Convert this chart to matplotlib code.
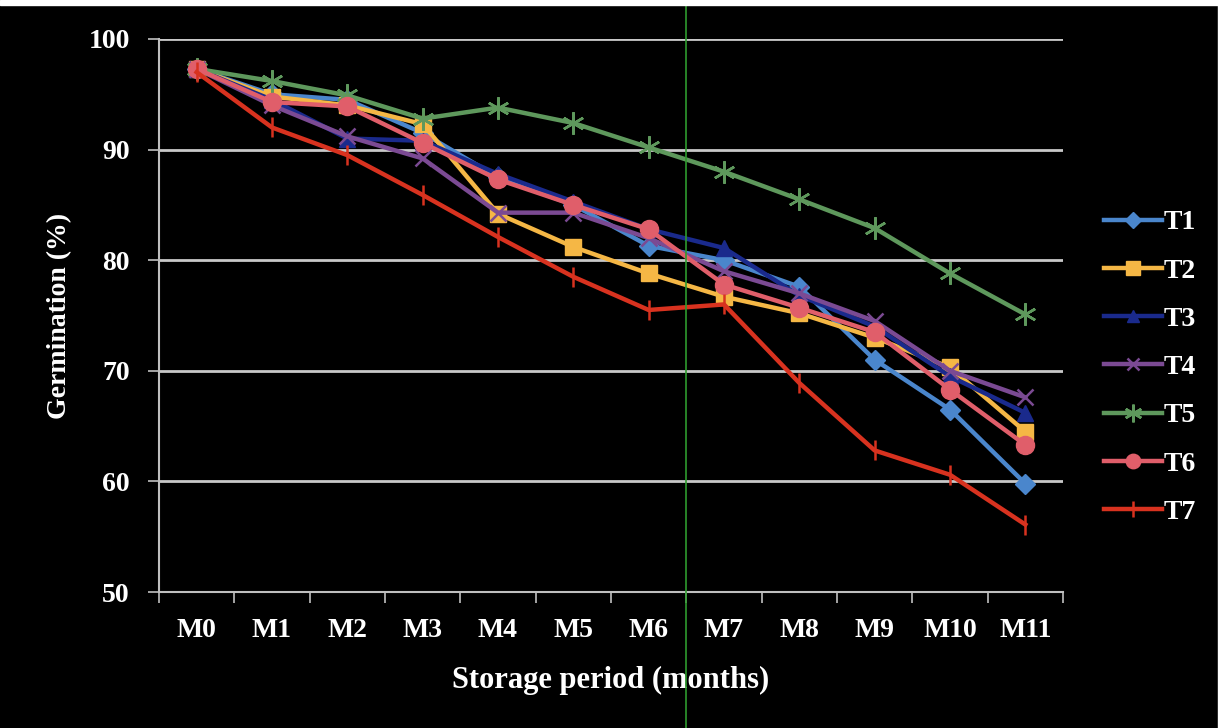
import matplotlib
matplotlib.use("Agg")
import matplotlib.pyplot as plt
from matplotlib.lines import Line2D
from matplotlib.patches import Rectangle
import numpy as np

months = ["M0", "M1", "M2", "M3", "M4", "M5", "M6", "M7", "M8", "M9", "M10", "M11"]
T1 = [97.3, 95.0, 94.5, 91.5, 87.5, 85.0, 81.3, 80.0, 77.6, 71.0, 66.5, 59.8]
T2 = [97.3, 94.8, 94.0, 92.3, 84.2, 81.2, 78.8, 76.7, 75.2, 73.0, 70.3, 64.5]
T3 = [97.3, 94.5, 91.0, 90.8, 87.8, 85.3, 82.8, 81.1, 76.8, 74.0, 69.5, 66.2]
T4 = [97.3, 94.0, 91.2, 89.2, 84.3, 84.3, 82.0, 79.0, 77.0, 74.5, 70.0, 67.6]
T5 = [97.3, 96.2, 94.9, 92.8, 93.8, 92.4, 90.2, 88.0, 85.5, 82.9, 78.8, 75.1]
T6 = [97.3, 94.3, 93.9, 90.6, 87.3, 85.0, 82.8, 77.8, 75.7, 73.5, 68.3, 63.3]
T7 = [97.0, 92.0, 89.5, 85.9, 82.1, 78.5, 75.5, 76.0, 68.9, 62.8, 60.6, 56.1]
yticks = [50, 60, 70, 80, 90, 100]

series = [
    ("T1", T1, "#4A86CC", "D", 10),
    ("T2", T2, "#F5B745", "s", 12),
    ("T3", T3, "#1A2A8C", "^", 11),
    ("T4", T4, "#7B4A93", "x", 11),
    ("T5", T5, "#5E985C", (6, 2, 0), 16),
    ("T6", T6, "#E05E6A", "o", 13),
    ("T7", T7, "#D8321F", "|", 14),
]

W, H = 1229, 728
fig = plt.figure(figsize=(W / 100, H / 100), dpi=100, facecolor="black")
ax = fig.add_axes([159 / W, 1 - 592 / H, 904 / W, 553 / H])
ax.set_facecolor("black")

x = np.arange(len(months))
for name, vals, col, mk, ms in series:
    kw = dict(markeredgecolor=col, markerfacecolor=col)
    if mk in ("x", "|") or isinstance(mk, tuple):
        kw["markeredgewidth"] = 1.8
    ax.plot(x, vals, color=col, lw=3.2, marker=mk, markersize=ms, label=name, **kw)

ax.set_xlim(-0.5, len(months) - 0.5)
ax.set_ylim(50, 100)
ax.set_yticks(yticks)
ax.set_xticks(x)
ax.set_xticklabels(months)
ax.set_xticks(np.arange(-0.5, len(months)), minor=True)
ax.tick_params(axis="x", which="major", length=0, pad=19)
ax.tick_params(axis="x", which="minor", length=8, width=1.2, color="#BFBFBF", direction="out")
ax.tick_params(axis="y", length=8, width=1.2, color="#BFBFBF", direction="out", pad=13)
for lab in ax.get_xticklabels() + ax.get_yticklabels():
    lab.set_fontfamily("Liberation Serif")
    lab.set_fontweight("bold")
    lab.set_fontsize(20)
    lab.set_color("white")

ax.yaxis.grid(True, color="#C8C8C8", lw=2)
ax.set_axisbelow(True)
for s in ["top", "right"]:
    ax.spines[s].set_visible(False)
for s in ["left", "bottom"]:
    ax.spines[s].set_color("#BFBFBF")
    ax.spines[s].set_linewidth(1.5)

ax.set_xlabel("Storage period (months)", family="Liberation Serif", fontweight="bold",
              fontsize=22, color="white", labelpad=16)
ax.set_ylabel("Germination (%)", family="Liberation Serif", fontweight="bold",
              fontsize=20, color="white", labelpad=12)

leg = fig.legend(loc="upper left", bbox_to_anchor=(1079 / W, 1 - 185 / H), frameon=False,
                 prop={"family": "Liberation Serif", "weight": "bold", "size": 20},
                 labelcolor="white", handlelength=2.1, handletextpad=0.05, labelspacing=0.82)
for h in leg.legend_handles:
    h.set_markersize(h.get_markersize() * 0.8)

# scan artefacts: green vertical line, white border
fig.add_artist(Line2D([686 / W, 686 / W], [0, 1], color="#2E9A2E", lw=1.2))
fig.add_artist(Rectangle((1218 / W, 0), 11 / W, 1, transform=fig.transFigure,
                         color="white", zorder=10))
fig.add_artist(Rectangle((0, 1 - 5 / H), 1, 5 / H, transform=fig.transFigure,
                         color="white", zorder=10))

fig.savefig("out.png", dpi=100, facecolor="black")
